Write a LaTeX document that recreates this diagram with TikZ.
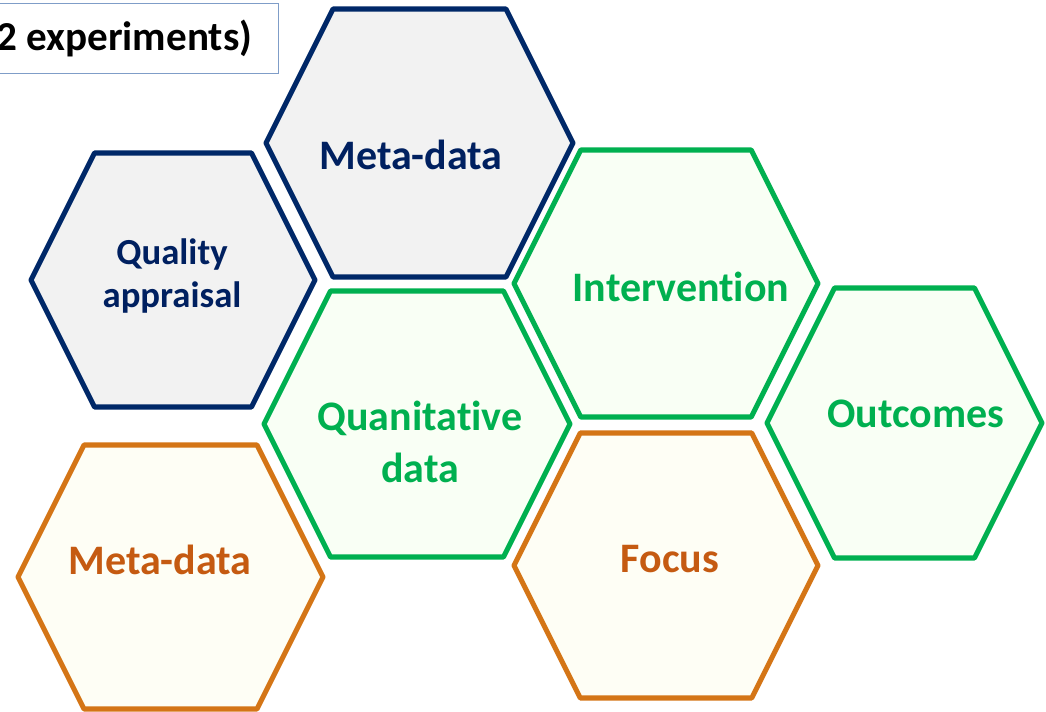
\documentclass[tikz,border=0pt]{standalone}
\usepackage{fontspec}
\setmainfont{Carlito}[Ligatures=NoCommon]
\usepackage{xcolor}
\definecolor{navy}{RGB}{0,40,104}
\definecolor{navytext}{RGB}{0,32,96}
\definecolor{leafgreen}{RGB}{0,176,80}
\definecolor{rust}{RGB}{212,117,22}
\definecolor{rusttext}{RGB}{197,90,17}
\definecolor{boxblue}{RGB}{127,157,200}

% hexagon with flat top and bottom: style, centre, half width, half height
\newcommand{\hexcell}[4]{%
  \pgfmathsetmacro{\hexin}{0.5*min(#3,#4)}
  \draw[#1, shift={(#2)}] (-#3,0) -- (-#3+\hexin,#4) -- (#3-\hexin,#4) -- (#3,0)
    -- (#3-\hexin,-#4) -- (-#3+\hexin,-#4) -- cycle;
}

\begin{document}
\begin{tikzpicture}[
    navycell/.style={draw=navy, fill=black!5, line width=2.9pt, line join=round},
    greencell/.style={draw=leafgreen, fill=green!40!lime!4, line width=2.9pt, line join=round},
    rustcell/.style={draw=rust, fill=yellow!50!lime!4, line width=2.9pt, line join=round},
    label/.style={font=\fontsize{23.9}{26}\selectfont\bfseries, align=center, inner sep=0pt},
    title/.style={draw=boxblue, fill=white, line width=0.8pt, font=\fontsize{23.4}{26}\selectfont\bfseries,
        inner xsep=0.52cm, minimum height=1.4cm}
]
    \useasboundingbox (0,0) rectangle (20.92,14.22);
    \clip (0,0) rectangle (20.92,14.22);

    % heading box, cut by the left edge
    \node[title, anchor=north east] (heading) at (5.58,14.16) {2 experiments)};

    % blue cells
    \hexcell{navycell}{8.39,11.36}{3.07}{2.68}
    \hexcell{navycell}{3.46,8.62}{2.84}{2.54}
    \node[label, text=navytext] (metablue) at (8.22,11.13) {Meta-data};
    \node[label, text=navytext, font=\fontsize{20.9}{24}\selectfont\bfseries] (quality) at (3.44,8.70) {Quality\\appraisal};

    % green cells
    \hexcell{greencell}{13.32,8.55}{3.04}{2.67}
    \hexcell{greencell}{8.34,5.74}{3.06}{2.66}
    \hexcell{greencell}{18.09,5.76}{2.75}{2.70}
    \node[label, text=leafgreen] (interv) at (13.62,8.48) {Intervention};
    \node[label, text=leafgreen, font=\fontsize{23.9}{29.5}\selectfont\bfseries] (quant) at (8.40,5.38) {Quanitative\\data};
    \node[label, text=leafgreen] (outcomes) at (18.32,5.94) {Outcomes};

    % orange cells
    \hexcell{rustcell}{13.32,2.91}{3.04}{2.65}
    \hexcell{rustcell}{3.41,2.68}{3.05}{2.64}
    \node[label, text=rusttext] (focus) at (13.40,3.04) {Focus};
    \node[label, text=rusttext] (metaorange) at (3.20,3.02) {Meta-data};
\end{tikzpicture}
\end{document}
